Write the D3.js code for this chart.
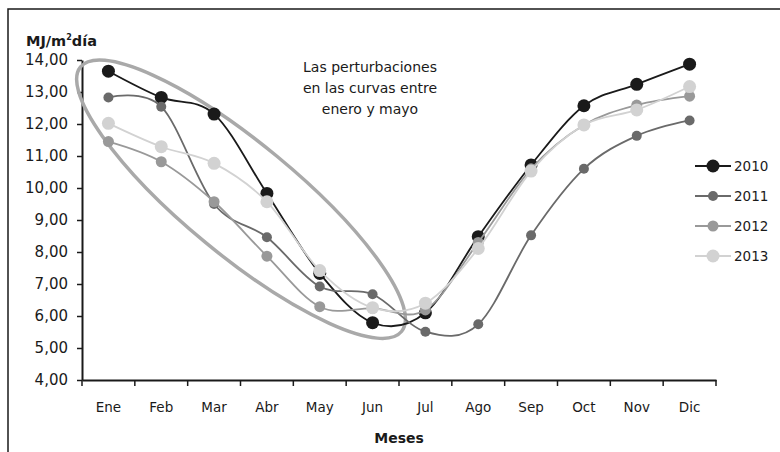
<!DOCTYPE html>
<html>
<head>
<meta charset="utf-8">
<script src="https://cdn.jsdelivr.net/npm/d3@7"></script>
<style>
  html, body { margin: 0; padding: 0; background: #fff; }
  svg { display: block; }
  text { font-family: "DejaVu Sans", sans-serif; fill: #1a1a1a; }
</style>
</head>
<body>
<svg id="chart" width="780" height="452"></svg>
<script>
const months = ["Ene","Feb","Mar","Abr","May","Jun","Jul","Ago","Sep","Oct","Nov","Dic"];
const seriesNames = ["2010","2011","2012","2013"];
const v2010 = [13.65, 12.83, 12.31, 9.83, 7.33, 5.79, 6.10, 8.48, 10.72, 12.57, 13.24, 13.87];
const v2011 = [12.83, 12.54, 9.50, 8.46, 6.92, 6.68, 5.51, 5.74, 8.52, 10.60, 11.63, 12.11];
const v2012 = [11.45, 10.82, 9.57, 7.87, 6.29, 6.24, 6.19, 8.30, 10.60, 11.97, 12.59, 12.87];
const v2013 = [12.02, 11.29, 10.77, 9.57, 7.42, 6.26, 6.40, 8.11, 10.53, 11.97, 12.44, 13.17];
const yTicks = [4,5,6,7,8,9,10,11,12,13,14];
const colors = ["#1a1a1a", "#6a6a6a", "#999999", "#d2d2d2"];
const dotR = [6.5, 5, 5.5, 6.5];
const annotationLines = ["Las perturbaciones", "en las curvas entre", "enero y mayo"];

const svg = d3.select("#chart");
const mLeft = 82, mRight = 716, mTop = 60, mBottom = 380;

const x = d3.scaleBand().domain(months).range([mLeft, mRight]).paddingInner(0).paddingOuter(0);
const y = d3.scaleLinear().domain([4, 14]).range([mBottom, mTop]);
const fmt = d => d3.format(".2f")(d).replace(".", ",");

// outer frame
svg.append("rect").attr("x", 8).attr("y", 9).attr("width", 800).attr("height", 470)
  .attr("fill", "none").attr("stroke", "#1a1a1a").attr("stroke-width", 1.5);

// y axis
const yAxis = svg.append("g").attr("transform", `translate(${mLeft},0)`)
  .call(d3.axisLeft(y).tickValues(yTicks).tickFormat(fmt).tickSize(5).tickPadding(9).tickSizeOuter(0));
yAxis.select(".domain").attr("stroke", "#1a1a1a").attr("stroke-width", 2);
yAxis.selectAll(".tick line").attr("stroke", "#1a1a1a").attr("stroke-width", 1.5);
yAxis.selectAll(".tick text").style("font-size", "15px").style("font-family", "DejaVu Sans").attr("fill", "#1a1a1a");

// x axis
const xAxis = svg.append("g").attr("transform", `translate(0,${mBottom})`)
  .call(d3.axisBottom(x).tickSize(0).tickPadding(22).tickSizeOuter(0));
xAxis.select(".domain").attr("stroke", "#1a1a1a").attr("stroke-width", 2);
xAxis.selectAll(".tick text").style("font-size", "13.5px").style("font-family", "DejaVu Sans").attr("fill", "#1a1a1a");
const boundaries = months.map(m => x(m)).concat([x(months[months.length - 1]) + x.bandwidth()]);
xAxis.selectAll("line.bt").data(boundaries).enter().append("line").attr("class", "bt")
  .attr("x1", d => d).attr("x2", d => d).attr("y1", 0).attr("y2", 6)
  .attr("stroke", "#1a1a1a").attr("stroke-width", 1.5);

// axis titles
const yt = svg.append("text").attr("x", 26).attr("y", 46).style("font-size", "14.5px").style("font-weight", "bold");
yt.append("tspan").text("MJ/m");
yt.append("tspan").text("2").attr("dy", -6).style("font-size", "8px");
yt.append("tspan").text("día").attr("dy", 6);
svg.append("text").attr("x", (mLeft + mRight) / 2).attr("y", 443).attr("text-anchor", "middle")
  .style("font-size", "14px").style("font-weight", "bold").text("Meses");

// ellipse annotation (positioned in data coordinates)
const ecx = x("Abr") + 0.01 * x.bandwidth();
const ecy = y(9.65);
svg.append("ellipse").attr("cx", 0).attr("cy", 0).attr("rx", 208).attr("ry", 56)
  .attr("transform", `translate(${ecx},${ecy}) rotate(39.5)`)
  .attr("fill", "none").attr("stroke", "#a9a9a9").attr("stroke-width", 3.5);

// series
const allSeries = [v2010, v2011, v2012, v2013];
const line = d3.line().x((d, i) => x(months[i]) + x.bandwidth() / 2).y(d => y(d))
  .curve(d3.curveCardinal.tension(0));
allSeries.forEach((vals, si) => {
  const g = svg.append("g");
  g.append("path").attr("d", line(vals)).attr("fill", "none")
    .attr("stroke", colors[si]).attr("stroke-width", 1.8);
  g.selectAll("circle").data(vals).enter().append("circle")
    .attr("cx", (d, i) => x(months[i]) + x.bandwidth() / 2)
    .attr("cy", d => y(d)).attr("r", dotR[si]).attr("fill", colors[si]);
});

// annotation text
const at = svg.append("text").attr("text-anchor", "middle").style("font-size", "14px");
annotationLines.forEach((t, i) => {
  at.append("tspan").attr("x", 370).attr("y", 72 + i * 21).text(t);
});

// legend
const legY = d3.scalePoint().domain(seriesNames).range([166, 256]);
seriesNames.forEach((name, si) => {
  const g = svg.append("g").attr("transform", `translate(0,${legY(name)})`);
  g.append("line").attr("x1", 695).attr("x2", 731).attr("y1", 0).attr("y2", 0)
    .attr("stroke", colors[si]).attr("stroke-width", 1.8);
  g.append("circle").attr("cx", 713).attr("cy", 0).attr("r", dotR[si]).attr("fill", colors[si]);
  g.append("text").attr("x", 734).attr("y", 5).style("font-size", "13.5px").text(name);
});
</script>
</body>
</html>
